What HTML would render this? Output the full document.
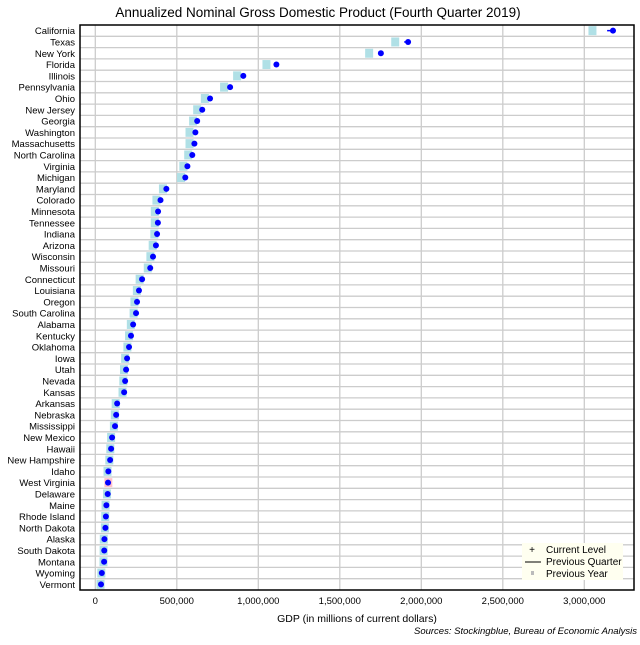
<!DOCTYPE html>
<html><head><meta charset="utf-8"><style>
body{margin:0;background:#fff;font-family:"Liberation Sans",sans-serif;}
svg text{font-family:"Liberation Sans",sans-serif;}
</style></head><body>
<svg id="chart" width="640" height="640" viewBox="0 0 640 640">
<rect width="640" height="640" fill="#fff"/>
<text x="318" y="17" text-anchor="middle" font-size="13.5" fill="#000">Annualized Nominal Gross Domestic Product (Fourth Quarter 2019)</text>
<g id="grid"></g><g id="marks"></g><g id="labels"></g>
<rect x="80" y="25" width="554" height="565" fill="none" stroke="#000" stroke-width="1.5"/>
<text x="357" y="622" text-anchor="middle" font-size="10.5">GDP (in millions of current dollars)</text>
<text x="637" y="634" text-anchor="end" font-size="9.5" font-style="italic">Sources: Stockingblue, Bureau of Economic Analysis</text>
<g>
<rect x="522" y="543" width="101" height="37" fill="#fffff0"/>
<text x="532" y="553" font-size="10" text-anchor="middle">+</text>
<text x="546" y="553" font-size="10">Current Level</text>
<line x1="525" y1="562" x2="541" y2="562" stroke="#000"/>
<text x="546" y="565" font-size="10">Previous Quarter</text>
<rect x="531" y="571" width="3" height="4" fill="#bbb"/>
<text x="546" y="577" font-size="10">Previous Year</text>
</g>
</svg>
<script>
const states=["California","Texas","New York","Florida","Illinois","Pennsylvania","Ohio","New Jersey","Georgia","Washington","Massachusetts","North Carolina","Virginia","Michigan","Maryland","Colorado","Minnesota","Tennessee","Indiana","Arizona","Wisconsin","Missouri","Connecticut","Louisiana","Oregon","South Carolina","Alabama","Kentucky","Oklahoma","Iowa","Utah","Nevada","Kansas","Arkansas","Nebraska","Mississippi","New Mexico","Hawaii","New Hampshire","Idaho","West Virginia","Delaware","Maine","Rhode Island","North Dakota","Alaska","South Dakota","Montana","Wyoming","Vermont"];
const current=[3176000,1919000,1752000,1111000,908000,827000,704000,656000,625000,614000,608000,595000,565000,552000,436000,400000,385000,384000,379000,372000,354000,337000,287000,268000,256000,250000,232000,219000,207000,195000,189000,183000,177000,134000,128000,121000,103000,97000,91000,80000,78000,76000,68000,65000,62000,56000,55000,54000,40000,35000];
const prevQuarter=[3140000,1895000,1745000,1100000,902000,820000,699000,650000,620000,608000,602000,589000,560000,547000,432000,396000,381000,380000,376000,368000,351000,334000,285000,266000,253000,247000,230000,217000,206000,194000,187000,181000,175000,133000,127000,120000,102000,96000,90000,79000,79000,75000,67000,64000,61000,55000,54000,53000,40000,35000];
const prevYear=[3050000,1840000,1680000,1050000,870000,790000,672000,625000,600000,578000,578000,570000,540000,526000,415000,375000,365000,365000,362000,352000,338000,322000,272000,255000,240000,235000,218000,207000,197000,183000,176000,172000,167000,125000,120000,114000,97000,92000,86000,75000,80000,72000,63000,61000,59000,52000,51000,50000,37000,32000];
const xTicks=[0,500000,1000000,1500000,2000000,2500000,3000000];
const xTickLabels=["0","500,000","1,000,000","1,500,000","2,000,000","2,500,000","3,000,000"];
const NS="http://www.w3.org/2000/svg";
const X=v=>95.3+v*163e-6;
const rowH=565/states.length;
const Y=i=>25+rowH*(i+0.5);
function mk(tag,attrs,parent){const e=document.createElementNS(NS,tag);for(const k in attrs)e.setAttribute(k,attrs[k]);parent.appendChild(e);return e;}
const grid=document.getElementById('grid'),marks=document.getElementById('marks'),labels=document.getElementById('labels');
xTicks.forEach((t,i)=>{
 const l=mk('line',{x1:X(t),x2:X(t),y1:25,y2:590,stroke:'#ccc','stroke-width':1.3},grid);
 
 
 const tx=mk('text',{x:X(t),y:604,'text-anchor':'middle','font-size':9.5},labels);
 tx.textContent=xTickLabels[i];
 
 
});
states.forEach((s,i)=>{
 if(i>0){const l=mk('line',{x1:80,x2:634,y1:25+rowH*i,y2:25+rowH*i,stroke:'#ccc','stroke-width':1.3},grid);
 
 }
 const tx=mk('text',{x:75,y:Y(i)+3.5,'text-anchor':'end','font-size':9.5},labels);
 tx.textContent=s;
 
 
 const sq=mk('rect',{x:X(prevYear[i])-4,y:Y(i)-4.5,width:8,height:9,fill:prevYear[i]>current[i]?'#ffc0cb':'#b0e0e6'},marks);
 
 
 const ln=mk('line',{x1:X(prevQuarter[i]),x2:X(current[i]),y1:Y(i),y2:Y(i),stroke:'#0000ff','stroke-width':1.5},marks);
 
 
 const c=mk('circle',{cx:X(current[i]),cy:Y(i),r:3,fill:'#0000ff'},marks);
 
 
});
</script>
</body></html>
